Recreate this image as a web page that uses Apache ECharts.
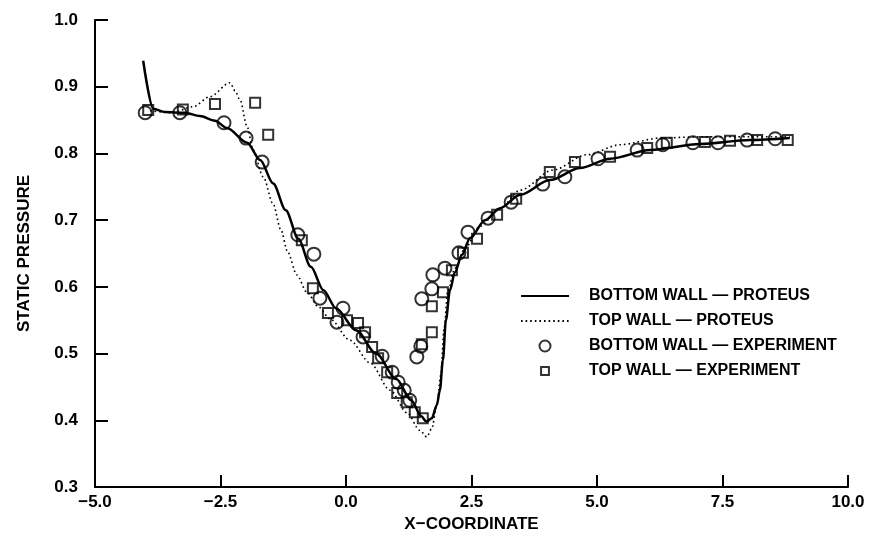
<!DOCTYPE html>
<html>
<head>
<meta charset="utf-8">
<script src="https://cdn.jsdelivr.net/npm/echarts@6/dist/echarts.min.js"></script>
<style>
  html, body { margin: 0; padding: 0; background: #fff; }
  #chart { width: 870px; height: 539px; }
</style>
</head>
<body>
<div id="chart"></div>
<script>
// bottom wall - PROTEUS (solid line), [x, p]
var protBottom = [
  [-4.04, 0.939], [-3.84, 0.867], [-3.61, 0.862], [-3.21, 0.861], [-2.91, 0.856],
  [-2.61, 0.849], [-2.37, 0.838], [-1.97, 0.816], [-1.71, 0.790], [-1.45, 0.755],
  [-1.20, 0.715], [-0.95, 0.672], [-0.70, 0.630], [-0.45, 0.595], [-0.20, 0.568],
  [0.20, 0.535], [0.60, 0.500], [1.00, 0.462], [1.30, 0.430], [1.50, 0.406],
  [1.60, 0.398], [1.71, 0.403], [1.81, 0.423], [1.87, 0.445], [1.93, 0.490],
  [1.99, 0.550], [2.07, 0.595], [2.17, 0.622], [2.31, 0.648], [2.47, 0.673],
  [2.77, 0.700], [3.07, 0.718], [3.47, 0.738], [4.06, 0.760], [4.66, 0.778],
  [5.26, 0.792], [6.06, 0.805], [7.05, 0.814], [8.05, 0.820], [8.84, 0.823]
];
// top wall - PROTEUS (dotted line)
var protTop = [
  [-3.90, 0.864], [-3.45, 0.861], [-3.05, 0.870], [-2.71, 0.885], [-2.31, 0.906],
  [-2.21, 0.894], [-2.11, 0.880], [-1.97, 0.840], [-1.85, 0.805], [-1.65, 0.765],
  [-1.45, 0.724], [-1.30, 0.686], [-1.16, 0.652], [-0.98, 0.618], [-0.78, 0.592],
  [-0.55, 0.570], [-0.32, 0.552], [0.08, 0.520], [0.48, 0.486], [0.88, 0.445],
  [1.22, 0.411], [1.47, 0.385], [1.61, 0.375], [1.71, 0.388], [1.81, 0.423],
  [1.89, 0.468], [1.95, 0.535], [2.03, 0.595], [2.17, 0.628], [2.37, 0.658],
  [2.67, 0.691], [3.07, 0.718], [3.47, 0.745], [4.12, 0.775], [4.80, 0.798],
  [5.46, 0.813], [6.25, 0.823], [7.05, 0.825], [8.05, 0.825], [8.84, 0.825]
];
// bottom wall - experiment (circles)
var expBottom = [
  [-4.00, 0.861], [-3.31, 0.861], [-2.43, 0.846], [-1.99, 0.823], [-1.67, 0.787],
  [-0.96, 0.678], [-0.64, 0.649], [-0.52, 0.583], [-0.18, 0.547], [-0.06, 0.568],
  [0.34, 0.525], [0.72, 0.496], [0.92, 0.472], [1.04, 0.457], [1.16, 0.445],
  [1.27, 0.430], [1.41, 0.495], [1.49, 0.511], [1.51, 0.582], [1.71, 0.597],
  [1.73, 0.618], [1.97, 0.628], [2.25, 0.651], [2.43, 0.682], [2.83, 0.703],
  [3.29, 0.727], [3.92, 0.754], [4.36, 0.765], [5.02, 0.792], [5.80, 0.805],
  [6.31, 0.813], [6.91, 0.816], [7.41, 0.816], [7.99, 0.820], [8.55, 0.822]
];
// top wall - experiment (squares)
var expTop = [
  [-3.94, 0.865], [-3.25, 0.866], [-2.61, 0.874], [-1.81, 0.876], [-1.55, 0.828],
  [-0.88, 0.670], [-0.66, 0.598], [-0.36, 0.561], [0.02, 0.550], [0.24, 0.546],
  [0.38, 0.532], [0.52, 0.510], [0.64, 0.493], [0.82, 0.472], [1.02, 0.441],
  [1.21, 0.427], [1.37, 0.412], [1.53, 0.403], [1.51, 0.514], [1.71, 0.532],
  [1.71, 0.571], [1.93, 0.592], [2.11, 0.625], [2.33, 0.651], [2.61, 0.672],
  [3.01, 0.708], [3.39, 0.732], [4.06, 0.772], [4.56, 0.787], [5.26, 0.795],
  [6.00, 0.808], [6.39, 0.816], [7.15, 0.817], [7.65, 0.819], [8.19, 0.820],
  [8.80, 0.820]
];
var names = ['BOTTOM WALL \u2014 PROTEUS', 'TOP WALL \u2014 PROTEUS',
             'BOTTOM WALL \u2014 EXPERIMENT', 'TOP WALL \u2014 EXPERIMENT'];

var font = 'Liberation Sans, Arial, sans-serif';
var squarePath = 'path://M0 0H10V10H0Z';
// padded square so the legend icon comes out a little smaller than the circle
var squareIcon = 'path://M-2 -2M12 12M0 0H10V10H0Z';
var chart = echarts.init(document.getElementById('chart'), null, {renderer: 'canvas'});

function fmt(v) {
  return v.toFixed(1).replace('-', '\u2212');
}

var option = {
  backgroundColor: '#fff',
  animation: false,
  grid: { left: 95, right: 22, top: 20, bottom: 52, outerBoundsMode: 'none' },
  legend: {
    orient: 'vertical',
    left: 520,
    top: 287,
    padding: 0,
    itemWidth: 48,
    itemHeight: 11,
    itemGap: 7,
    data: [
      { name: names[0], itemStyle: { opacity: 0 } },
      { name: names[1], itemStyle: { opacity: 0 } },
      { name: names[2] },
      { name: names[3], icon: squareIcon }
    ],
    textStyle: { fontFamily: font, fontSize: 16, fontWeight: 'bold', color: '#000',
                 lineHeight: 18, padding: [0, 0, 0, 15] }
  },
  xAxis: {
    type: 'value', min: -5, max: 10, interval: 2.5,
    name: 'X\u2212COORDINATE', nameLocation: 'middle', nameGap: 27,
    nameTextStyle: { fontFamily: font, fontSize: 17, fontWeight: 'bold', color: '#000' },
    axisLine: { onZero: false, lineStyle: { color: '#000', width: 2 } },
    axisTick: { inside: true, length: 12, lineStyle: { color: '#000', width: 2 } },
    axisLabel: { formatter: fmt, margin: 7, fontFamily: font, fontSize: 17, fontWeight: 'bold', color: '#000' },
    splitLine: { show: false }
  },
  yAxis: {
    type: 'value', min: 0.3, max: 1.0, interval: 0.1,
    name: 'STATIC PRESSURE', nameLocation: 'middle', nameGap: 62,
    nameTextStyle: { fontFamily: font, fontSize: 17, fontWeight: 'bold', color: '#000' },
    axisLine: { onZero: false, lineStyle: { color: '#000', width: 2 } },
    axisTick: { inside: true, length: 13, lineStyle: { color: '#000', width: 2 } },
    axisLabel: { formatter: fmt, margin: 17, fontFamily: font, fontSize: 17, fontWeight: 'bold', color: '#000' },
    splitLine: { show: false }
  },
  series: [
    {
      name: names[0], type: 'line', data: protBottom, symbol: 'none',
      smooth: 0.3, smoothMonotone: 'x',
      itemStyle: { color: '#000' },
      lineStyle: { color: '#000', width: 2.5 }
    },
    {
      name: names[1], type: 'line', data: protTop, symbol: 'none',
      smooth: 0.3, smoothMonotone: 'x',
      itemStyle: { color: '#000' },
      lineStyle: { color: '#000', width: 1.6, type: [1.6, 3] }
    },
    {
      name: names[2], type: 'scatter', data: expBottom, symbol: 'circle', symbolSize: 13,
      itemStyle: { color: 'transparent', borderColor: '#000', borderWidth: 2 }
    },
    {
      name: names[3], type: 'scatter', data: expTop, symbol: squarePath, symbolSize: 10,
      itemStyle: { color: 'transparent', borderColor: '#000', borderWidth: 2 }
    }
  ]
};
chart.setOption(option);
</script>
</body>
</html>
